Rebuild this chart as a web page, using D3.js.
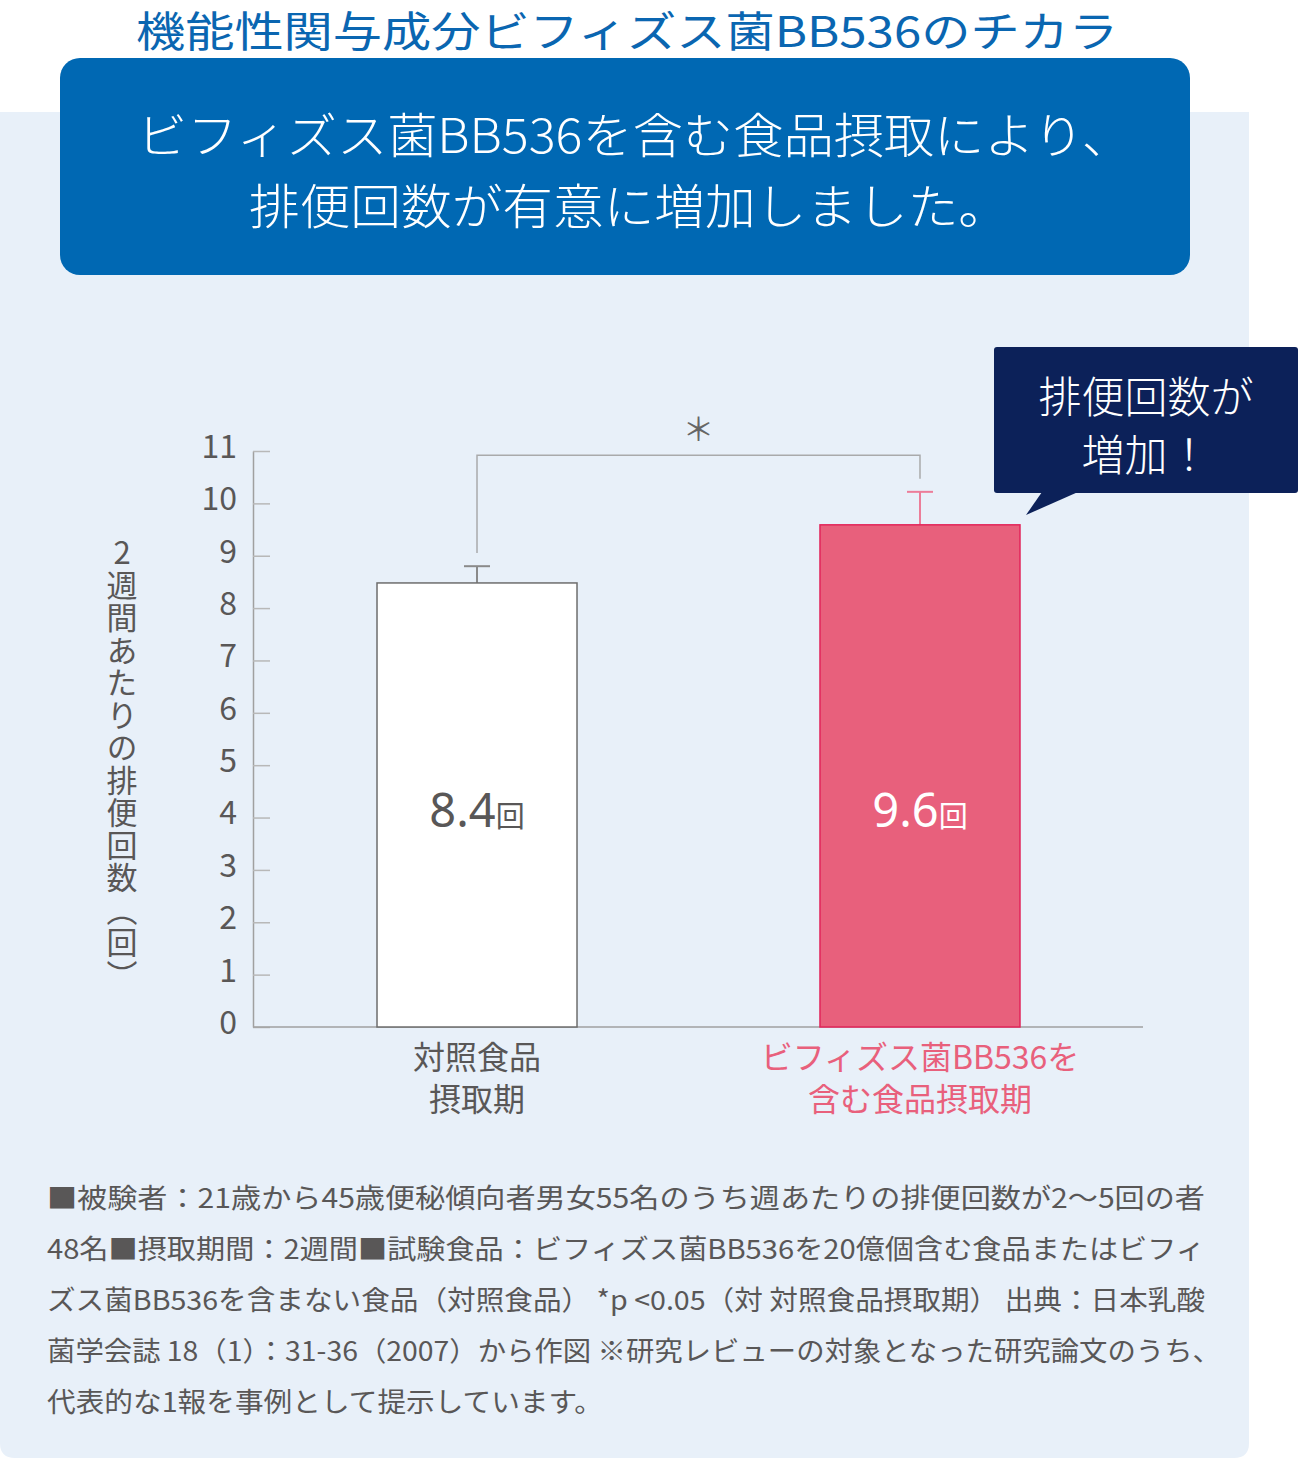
<!DOCTYPE html>
<html>
<head>
<meta charset="utf-8">
<script src="https://cdn.jsdelivr.net/npm/d3@7"></script>
<style>
  body { margin: 0; background: #fff; }
  svg { display: block; }
  text { font-family: "Noto Sans CJK JP", "Noto Sans", sans-serif; }
</style>
</head>
<body>
<div id="chart"></div>
<script>
// data
const categories = ["対照食品摂取期", "ビフィズス菌BB536を含む食品摂取期"];
const categoryLines = [["対照食品", "摂取期"], ["ビフィズス菌BB536を", "含む食品摂取期"]];
const meanValues = [8.48, 9.59];
const errorTops = [8.80, 10.22];
const valueLabels = ["8.4", "9.6"];
const yTicks = [0, 1, 2, 3, 4, 5, 6, 7, 8, 9, 10, 11];
// significance bracket: left leg bottom, bar level, right leg bottom (in y units)
const bracketLevels = [9.05, 10.92, 10.47];

const titleText = "機能性関与成分ビフィズス菌BB536のチカラ";
const headlineLines = ["ビフィズス菌BB536を含む食品摂取により、", "排便回数が有意に増加しました。"];
const calloutLines = ["排便回数が", "増加！"];
const yTitle = "2週間あたりの排便回数（回）";
const noteLines = [
  "■被験者：21歳から45歳便秘傾向者男女55名のうち週あたりの排便回数が2〜5回の者",
  "48名■摂取期間：2週間■試験食品：ビフィズス菌BB536を20億個含む食品またはビフィ",
  "ズス菌BB536を含まない食品（対照食品） *p <0.05（対 対照食品摂取期） 出典：日本乳酸",
  "菌学会誌 18（1）：31-36（2007）から作図 ※研究レビューの対象となった研究論文のうち、",
  "代表的な1報を事例として提示しています。"
];
const noteWidths = [1158, 1158, 1158, 1174, 556];

const W = 1299, H = 1460;
const barFills = ["#ffffff", "#e8607c"];
const barStrokes = ["#6d6d6d", "#e2245a"];
const errColors = ["#8a8a8a", "#ec7d99"];
const labelColors = ["#595757", "#ffffff"];
const catColors = ["#595757", "#e8607c"];

const svg = d3.select("#chart").append("svg")
    .attr("width", W)
    .attr("height", H);

// light blue panel, rounded at the bottom
svg.append("path")
    .attr("d", "M0,112 H1249 V1443 Q1249,1458 1234,1458 H15 Q0,1458 0,1443 Z")
    .attr("fill", "#e8f0f9");

// title
svg.append("text")
    .attr("x", 136).attr("y", 47)
    .attr("font-size", 42)
    .attr("fill", "#0a66b1")
    .attr("textLength", 982)
    .attr("lengthAdjust", "spacingAndGlyphs")
    .text(titleText);

// headline box
svg.append("rect")
    .attr("x", 60).attr("y", 58)
    .attr("width", 1130).attr("height", 217)
    .attr("rx", 20)
    .attr("fill", "#0068b3");

svg.selectAll(".headline")
    .data(headlineLines)
    .enter().append("text")
    .attr("class", "headline")
    .attr("x", (d, i) => i === 0 ? 137 : 249)
    .attr("y", (d, i) => 153 + i * 71)
    .attr("font-size", 48)
    .attr("font-weight", 300)
    .attr("fill", "#fff")
    .attr("textLength", (d, i) => i === 0 ? 995 : 760)
    .attr("lengthAdjust", "spacingAndGlyphs")
    .text(d => d);

// scales
const x = d3.scaleBand()
    .domain(categories)
    .range([255.5, 1141.5])
    .paddingInner(0.5485)
    .paddingOuter(0.2743);

const y = d3.scaleLinear()
    .domain([0, 11])
    .range([1027, 451]);

const g = svg.append("g");

// y axis with ticks pointing into the plot
const yAxis = g.append("g")
    .attr("transform", "translate(253,0)")
    .call(d3.axisLeft(y).tickValues(yTicks).tickSizeInner(-17).tickSizeOuter(0).tickPadding(16));
yAxis.select(".domain").attr("stroke", "#a0a0a0").attr("stroke-width", 1.5);
yAxis.selectAll(".tick line").attr("stroke", "#b8b8b8").attr("stroke-width", 1.5);
yAxis.selectAll(".tick text")
    .attr("font-size", 32)
    .attr("fill", "#595757")
    .attr("font-family", "'Noto Sans', sans-serif")
    .attr("dy", "0.2em");

// baseline
g.append("line")
    .attr("x1", 253).attr("x2", 1143)
    .attr("y1", y(0)).attr("y2", y(0))
    .attr("stroke", "#a0a0a0")
    .attr("stroke-width", 1.5);

// y title, vertical
svg.append("text")
    .attr("x", 122).attr("y", 537)
    .attr("font-size", 31)
    .attr("letter-spacing", 1.5)
    .attr("fill", "#595757")
    .style("writing-mode", "vertical-rl")
    .style("text-orientation", "upright")
    .text(yTitle);

// significance bracket
const cx = i => x(categories[i]) + x.bandwidth() / 2;
g.append("path")
    .attr("d", `M${cx(0)},${y(bracketLevels[0])} V${y(bracketLevels[1])} H${cx(1)} V${y(bracketLevels[2])}`)
    .attr("fill", "none")
    .attr("stroke", "#a9aaab")
    .attr("stroke-width", 1.5);

g.append("text")
    .attr("x", (cx(0) + cx(1)) / 2)
    .attr("y", y(bracketLevels[1]) - 14)
    .attr("text-anchor", "middle")
    .attr("font-size", 32)
    .attr("fill", "#666")
    .text("＊");

// error bars
categories.forEach((c, i) => {
    g.append("line")
        .attr("x1", cx(i)).attr("x2", cx(i))
        .attr("y1", y(meanValues[i])).attr("y2", y(errorTops[i]))
        .attr("stroke", errColors[i]).attr("stroke-width", 2);
    g.append("line")
        .attr("x1", cx(i) - 13).attr("x2", cx(i) + 13)
        .attr("y1", y(errorTops[i])).attr("y2", y(errorTops[i]))
        .attr("stroke", errColors[i]).attr("stroke-width", 2);
});

// bars
g.selectAll(".bar")
    .data(categories)
    .enter().append("rect")
    .attr("class", "bar")
    .attr("x", d => x(d))
    .attr("y", (d, i) => y(meanValues[i]))
    .attr("width", x.bandwidth())
    .attr("height", (d, i) => y(0) - y(meanValues[i]))
    .attr("fill", (d, i) => barFills[i])
    .attr("stroke", (d, i) => barStrokes[i])
    .attr("stroke-width", 1.5);

// value labels in bars
const vl = g.selectAll(".vlabel")
    .data(categories)
    .enter().append("text")
    .attr("class", "vlabel")
    .attr("x", (d, i) => cx(i))
    .attr("y", y(4) + 9)
    .attr("text-anchor", "middle")
    .attr("fill", (d, i) => labelColors[i]);
vl.append("tspan")
    .attr("font-size", 47)
    .attr("font-family", "'Noto Sans', sans-serif")
    .text((d, i) => valueLabels[i]);
vl.append("tspan")
    .attr("font-size", 29)
    .text("回");

// category labels
categories.forEach((c, i) => {
    g.selectAll(".cat" + i)
        .data(categoryLines[i])
        .enter().append("text")
        .attr("x", cx(i))
        .attr("y", (d, j) => y(0) + 42 + j * 42)
        .attr("text-anchor", "middle")
        .attr("font-size", 32)
        .attr("fill", catColors[i])
        .text(d => d);
});

// callout
svg.append("rect")
    .attr("x", 994).attr("y", 347)
    .attr("width", 304).attr("height", 146)
    .attr("rx", 3)
    .attr("fill", "#0c2159");
svg.append("path")
    .attr("d", "M1042,492 L1078,492 L1026,515 Z")
    .attr("fill", "#0c2159");
svg.selectAll(".callout")
    .data(calloutLines)
    .enter().append("text")
    .attr("class", "callout")
    .attr("x", 1146)
    .attr("y", (d, i) => 413 + i * 58)
    .attr("text-anchor", "middle")
    .attr("font-size", 43)
    .attr("font-weight", 300)
    .attr("fill", "#fff")
    .text(d => d);

// footnote
svg.selectAll(".note")
    .data(noteLines)
    .enter().append("text")
    .attr("class", "note")
    .attr("x", 47)
    .attr("y", (d, i) => 1208 + i * 51)
    .attr("font-size", 27)
    .attr("fill", "#595757")
    .attr("textLength", (d, i) => noteWidths[i])
    .attr("lengthAdjust", "spacingAndGlyphs")
    .text(d => d);
</script>
</body>
</html>
